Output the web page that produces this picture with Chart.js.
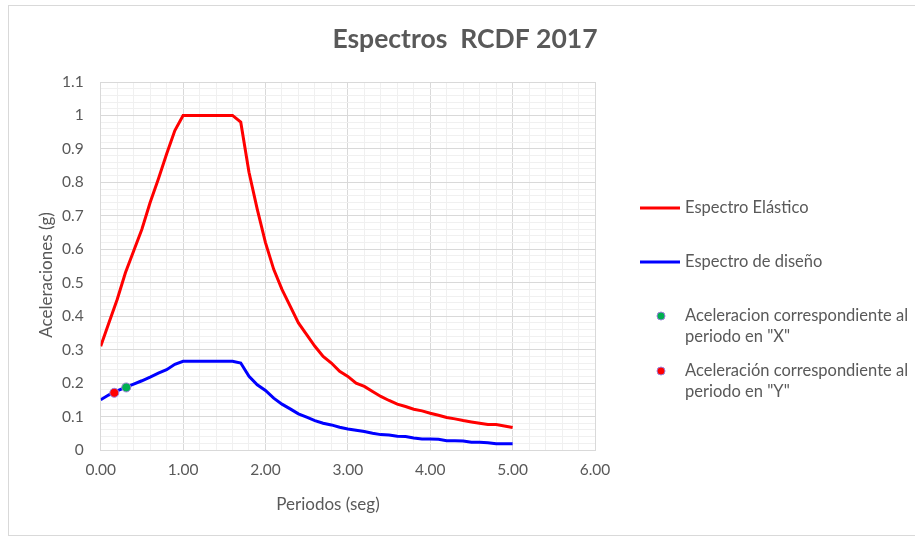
<!DOCTYPE html>
<html>
<head>
<meta charset="utf-8">
<script src="https://cdn.jsdelivr.net/npm/chart.js@4.4.1/dist/chart.umd.min.js"></script>
<style>
    html, body { margin: 0; padding: 0; background: #fff; }
    #espectros { display: block; }
</style>
</head>
<body>
<canvas id="espectros" width="915" height="537"></canvas>
<script>
// Datos (periodo en seg, aceleración en g)
const periodos = [0, 0.1, 0.2, 0.3, 0.4, 0.5, 0.6, 0.7, 0.8, 0.9, 1.0, 1.1, 1.2, 1.3, 1.4, 1.5, 1.6, 1.7, 1.8, 1.9,
    2.0, 2.1, 2.2, 2.3, 2.4, 2.5, 2.6, 2.7, 2.8, 2.9, 3.0, 3.1, 3.2, 3.3, 3.4, 3.5, 3.6, 3.7, 3.8, 3.9,
    4.0, 4.1, 4.2, 4.3, 4.4, 4.5, 4.6, 4.7, 4.8, 4.9, 5.0];
const espectroElastico = [0.31, 0.38, 0.45, 0.53, 0.595, 0.66, 0.74, 0.81, 0.885, 0.955, 1.0, 1.0, 1.0, 1.0, 1.0, 1.0, 1.0, 0.98, 0.83, 0.72,
    0.62, 0.54, 0.48, 0.43, 0.38, 0.345, 0.31, 0.28, 0.26, 0.235, 0.22, 0.2, 0.19, 0.175, 0.16, 0.148, 0.137, 0.13, 0.122, 0.117,
    0.11, 0.104, 0.097, 0.093, 0.088, 0.084, 0.08, 0.076, 0.076, 0.072, 0.067];
const espectroDiseno = [0.15, 0.165, 0.177, 0.187, 0.197, 0.207, 0.218, 0.23, 0.24, 0.256, 0.265, 0.265, 0.265, 0.265, 0.265, 0.265, 0.265, 0.26, 0.22, 0.195,
    0.178, 0.155, 0.137, 0.123, 0.108, 0.098, 0.088, 0.08, 0.075, 0.068, 0.063, 0.059, 0.055, 0.05, 0.046, 0.045, 0.041, 0.04, 0.036, 0.033,
    0.033, 0.032, 0.028, 0.028, 0.027, 0.023, 0.023, 0.022, 0.019, 0.019, 0.019];
const puntoX = [0.31, 0.187];
const puntoY = [0.165, 0.171];

const etiquetas = ['Espectro Elástico', 'Espectro de diseño',
    ['Aceleracion correspondiente al', 'periodo en "X"'],
    ['Aceleración correspondiente al', 'periodo en "Y"']];

const FUENTE = 'Lato, "Open Sans", sans-serif';
const GRIS = '#595959';

const aPuntos = arr => periodos.map((t, i) => ({ x: t, y: arr[i] }));

// Titulo, ejes, leyenda y marco
const decoracion = {
    id: 'decoracion',
    beforeDraw(chart) {
        const ctx = chart.ctx;
        ctx.save();
        ctx.strokeStyle = '#d9d9d9';
        ctx.lineWidth = 1;
        ctx.strokeRect(8.5, 5.5, 940, 530);
        ctx.restore();
    },
    afterDraw(chart) {
        const ctx = chart.ctx;
        ctx.save();
        ctx.fillStyle = GRIS;
        ctx.textBaseline = 'middle';

        ctx.font = 'bold 26.5px ' + FUENTE;
        ctx.textAlign = 'center';
        ctx.fillText('Espectros  RCDF 2017', 465, 39);

        ctx.font = '17px ' + FUENTE;
        ctx.fillText('Periodos (seg)', 328, 505);
        ctx.save();
        ctx.translate(47, 275);
        ctx.rotate(-Math.PI / 2);
        ctx.fillText('Aceleraciones (g)', 0, 0);
        ctx.restore();

        // leyenda
        ctx.font = '16.5px ' + FUENTE;
        ctx.textAlign = 'left';
        ctx.lineWidth = 3;
        ctx.strokeStyle = '#ff0000';
        ctx.beginPath(); ctx.moveTo(640, 208); ctx.lineTo(680, 208); ctx.stroke();
        ctx.fillText(etiquetas[0], 685, 208);
        ctx.strokeStyle = '#0000ff';
        ctx.beginPath(); ctx.moveTo(640, 262); ctx.lineTo(680, 262); ctx.stroke();
        ctx.fillText(etiquetas[1], 685, 262);

        const marcas = [['#00b050', 316], ['#ff0000', 371]];
        marcas.forEach(([color, y], i) => {
            ctx.beginPath();
            ctx.arc(661, y, 4, 0, Math.PI * 2);
            ctx.fillStyle = color;
            ctx.fill();
            ctx.lineWidth = 1;
            ctx.strokeStyle = '#9b7fd9';
            ctx.stroke();
            ctx.fillStyle = GRIS;
            ctx.fillText(etiquetas[i + 2][0], 685, y);
            ctx.fillText(etiquetas[i + 2][1], 685, y + 21);
        });
        ctx.restore();
    }
};

const esMayor = (v, paso) => Math.abs(v / paso - Math.round(v / paso)) < 1e-6;

new Chart(document.getElementById('espectros'), {
    type: 'line',
    data: {
        datasets: [
            {
                label: etiquetas[2].join(' '),
                data: [{ x: puntoX[0], y: puntoX[1] }],
                showLine: false,
                pointRadius: 4.5,
                backgroundColor: '#00b050',
                borderColor: '#9b7fd9',
                pointBorderWidth: 1,
                order: 0
            },
            {
                label: etiquetas[3].join(' '),
                data: [{ x: puntoY[0], y: puntoY[1] }],
                showLine: false,
                pointRadius: 4.5,
                backgroundColor: '#ff0000',
                borderColor: '#9b7fd9',
                pointBorderWidth: 1,
                order: 0
            },
            {
                label: etiquetas[0],
                data: aPuntos(espectroElastico),
                borderColor: '#ff0000',
                borderWidth: 3,
                pointRadius: 0,
                tension: 0,
                order: 1
            },
            {
                label: etiquetas[1],
                data: aPuntos(espectroDiseno),
                borderColor: '#0000ff',
                borderWidth: 3,
                pointRadius: 0,
                tension: 0,
                order: 1
            }
        ]
    },
    options: {
        responsive: false,
        animation: false,
        layout: { padding: { left: 8, top: 82, right: 320, bottom: 0 } },
        plugins: {
            legend: { display: false },
            tooltip: { enabled: false }
        },
        scales: {
            x: {
                type: 'linear',
                min: 0,
                max: 6,
                afterFit: s => { s.height = 87; },
                border: { color: '#d9d9d9' },
                grid: {
                    drawTicks: false,
                    color: c => esMayor(c.tick.value, 1) ? '#d9d9d9' : '#f0f0f0'
                },
                ticks: {
                    stepSize: 0.2,
                    autoSkip: false,
                    maxRotation: 0,
                    maxTicksLimit: 1000,
                    padding: 11,
                    color: GRIS,
                    font: { family: FUENTE, size: 15.5 },
                    callback: v => esMayor(v, 1) ? v.toFixed(2) : ''
                }
            },
            y: {
                min: 0,
                max: 1.1,
                afterFit: s => { s.width = 92.7; },
                border: { color: '#d9d9d9' },
                grid: {
                    drawTicks: false,
                    color: c => esMayor(c.tick.value, 0.1) ? '#d9d9d9' : '#f0f0f0'
                },
                ticks: {
                    stepSize: 0.02,
                    autoSkip: false,
                    maxTicksLimit: 1000,
                    padding: 17,
                    color: GRIS,
                    font: { family: FUENTE, size: 15.5 },
                    callback: v => esMayor(v, 0.1) ? String(Math.round(v * 10) / 10) : ''
                }
            }
        }
    },
    plugins: [decoracion]
});
</script>
</body>
</html>
